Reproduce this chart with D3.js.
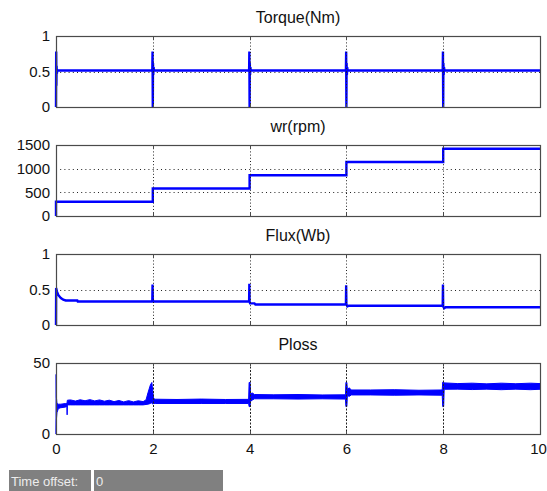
<!DOCTYPE html>
<html>
<head>
<meta charset="utf-8">
<script src="https://cdn.jsdelivr.net/npm/d3@7"></script>
<style>
  html, body { margin: 0; padding: 0; background: #fff; }
  svg { display: block; }
  text { font-family: "Liberation Sans", Arial, Helvetica, sans-serif; }
</style>
</head>
<body>
<svg id="scope" width="547" height="491"></svg>
<script>
// Time axis shared by all four traces (seconds)
const timeTicks = [0, 2, 4, 6, 8, 10];

// Panel titles and y-axis tick labels
const titles = ["Torque(Nm)", "wr(rpm)", "Flux(Wb)", "Ploss"];
const yDomains = [[0, 1], [0, 1500], [0, 1], [0, 50]];
const yTicks = [[0, 0.5, 1], [0, 500, 1000, 1500], [0, 0.5, 1], [0, 50]];
const yTickLabels = [["0", "0.5", "1"], ["0", "500", "1000", "1500"], ["0", "0.5", "1"], ["0", "50"]];

// Electromagnetic torque [t, Nm]
const torque = [
  [0, 0], [0.004, 0.78], [0.008, 0.30], [0.012, 0.58], [0.018, 0.47], [0.025, 0.515],
  [1.99, 0.515], [1.995, 0.78], [2.0, 0.0], [2.004, 0.62], [2.01, 0.45], [2.016, 0.56], [2.025, 0.515],
  [3.99, 0.515], [3.995, 0.78], [4.0, 0.0], [4.004, 0.62], [4.01, 0.45], [4.016, 0.56], [4.025, 0.515],
  [5.99, 0.515], [5.995, 0.78], [6.0, 0.0], [6.004, 0.62], [6.01, 0.45], [6.016, 0.56], [6.025, 0.515],
  [7.99, 0.515], [7.995, 0.78], [8.0, 0.0], [8.004, 0.62], [8.01, 0.45], [8.016, 0.56], [8.025, 0.515],
  [10, 0.515]
];

// Rotor speed [t, rpm]
const speed = [
  [0, 0], [0, 300], [2, 300], [2, 580], [4, 580], [4, 860],
  [6, 860], [6, 1140], [8, 1140], [8, 1420], [10, 1420]
];

// Stator flux [t, Wb]
const flux = [
  [0, 0], [0.003, 0.52], [0.02, 0.47], [0.05, 0.42], [0.1, 0.38], [0.15, 0.356], [0.2, 0.345],
  [0.44, 0.345], [0.45, 0.33],
  [1.99, 0.33], [1.995, 0.57], [2.0, 0.36], [2.01, 0.33],
  [3.99, 0.33], [3.995, 0.58], [4.0, 0.33], [4.01, 0.305],
  [4.1, 0.305], [4.12, 0.288],
  [5.99, 0.288], [5.995, 0.56], [6.0, 0.29], [6.02, 0.262], [6.05, 0.272],
  [7.99, 0.272], [7.995, 0.57], [8.0, 0.26], [8.02, 0.235], [8.05, 0.25],
  [10, 0.25]
];

// Power loss envelope [t, low, high] (W) — the trace ripples inside this band
const ploss = [
  [0, 0, 1], [0.003, 0, 42], [0.008, 10, 26], [0.02, 15, 21.5], [0.05, 18, 21],
  [0.1, 18.5, 21], [0.2, 19, 21.5], [0.225, 19.5, 21.5], [0.23, 13.5, 22.5], [0.235, 20.5, 23.8],
  [0.3, 20.5, 24], [0.4, 20.5, 23.2], [0.5, 20.5, 24.1], [0.6, 20.5, 23.4], [0.7, 20.5, 24.2],
  [0.8, 20.5, 23.3], [0.9, 20.5, 24], [1.0, 20.5, 23.1], [1.1, 20.5, 23.8], [1.2, 20.5, 22.8],
  [1.3, 20.5, 23.6], [1.4, 20.5, 22.6], [1.5, 20.5, 23.5], [1.6, 20.5, 22.6], [1.7, 20.5, 23.4],
  [1.8, 20.5, 22.8], [1.86, 20.8, 24], [1.9, 21, 29], [1.95, 21.5, 34.5], [1.98, 22, 36.3],
  [2.0, 21, 30], [2.015, 21.5, 25],
  [2.05, 21.5, 24.5], [2.5, 21.5, 24.3], [3.0, 21.5, 24.6], [3.5, 21.5, 24.3], [3.98, 21.5, 24.4],
  [3.99, 19.3, 36.3], [4.01, 19.3, 36.3], [4.02, 23, 28.5],
  [4.06, 24, 28.8], [4.1, 24.8, 27.8], [4.5, 24.8, 27.6], [5.0, 24.6, 27.8], [5.5, 24.8, 27.5], [5.98, 24.6, 27.6],
  [5.99, 19.3, 36.3], [6.01, 19.3, 36.3], [6.02, 27, 31.5],
  [6.06, 26.5, 32.5], [6.1, 27.5, 31], [6.5, 27.5, 31], [7.0, 27.3, 31.2], [7.5, 27.5, 30.8], [7.98, 27.3, 31],
  [7.99, 19.3, 36.5], [8.01, 19.3, 36.5], [8.02, 31.5, 36],
  [8.3, 31.6, 35.5], [8.6, 31.3, 35.8], [8.9, 31.6, 35.3], [9.2, 31.2, 35.8], [9.5, 31.6, 35.4], [9.8, 31.2, 35.8], [10, 31.5, 35.5]
];

const svg = d3.select("#scope");
const left = 56, right = 540;
const panelTop = [36, 145, 254, 363];
const panelH = 71;
const blue = "#0000ff";
const gridColor = "#222";
const frameColor = "#4a4a4a";

const x = d3.scaleLinear().domain([0, 10]).range([left, right]);

panelTop.forEach((top, i) => {
  const y = d3.scaleLinear().domain(yDomains[i]).range([top + panelH, top]);
  const g = svg.append("g");

  // title
  g.append("text")
    .attr("x", (left + right) / 2)
    .attr("y", top - 13)
    .attr("text-anchor", "middle")
    .attr("font-size", 16)
    .attr("fill", "#111")
    .text(titles[i]);

  // data
  const plot = g.append("g");
  if (i === 3) {
    plot.append("path")
      .datum(ploss)
      .attr("fill", blue)
      .attr("stroke", blue)
      .attr("stroke-width", 1)
      .attr("d", d3.area().x(d => x(d[0])).y0(d => y(d[1])).y1(d => y(d[2])));
  } else {
    const series = [torque, speed, flux][i];
    plot.append("path")
      .datum(series)
      .attr("fill", "none")
      .attr("stroke", blue)
      .attr("stroke-width", 2.4)
      .attr("stroke-linejoin", "miter")
      .attr("d", d3.line().x(d => x(d[0])).y(d => y(d[1])));
  }

  // grid (drawn over the traces, as the scope does)
  const grid = g.append("g").attr("stroke", gridColor).attr("stroke-width", 1);
  timeTicks.slice(1, -1).forEach(t => {
    grid.append("line")
      .attr("x1", Math.round(x(t)) + 0.5).attr("x2", Math.round(x(t)) + 0.5)
      .attr("y1", top).attr("y2", top + panelH)
      .attr("stroke-dasharray", i === 3 ? "2,1.5" : "1,2.2");
  });
  yTicks[i].slice(1, -1).forEach(v => {
    grid.append("line")
      .attr("x1", left).attr("x2", right)
      .attr("y1", Math.round(y(v)) + 0.5).attr("y2", Math.round(y(v)) + 0.5)
      .attr("stroke-dasharray", "1,3.2");
  });

  // frame
  g.append("rect")
    .attr("x", left + 0.5).attr("y", top + 0.5)
    .attr("width", right - left).attr("height", panelH)
    .attr("fill", "none").attr("stroke", frameColor).attr("stroke-width", 1.2);

  // y axis labels
  const yAxis = d3.axisLeft(y)
    .tickValues(yTicks[i])
    .tickFormat((d, k) => yTickLabels[i][k])
    .tickSize(0).tickPadding(6);
  const ya = g.append("g").attr("transform", `translate(${left},0)`).call(yAxis);
  ya.select(".domain").remove();
  ya.selectAll("text").attr("font-size", 15).attr("fill", "#111")
    .attr("font-family", "'Liberation Sans', Arial, sans-serif");

  // inner tick marks along the bottom and top edges
  timeTicks.slice(1, -1).forEach(t => {
    g.append("line").attr("x1", Math.round(x(t)) + 0.5).attr("x2", Math.round(x(t)) + 0.5)
      .attr("y1", top + panelH).attr("y2", top + panelH - 3)
      .attr("stroke", frameColor);
    g.append("line").attr("x1", Math.round(x(t)) + 0.5).attr("x2", Math.round(x(t)) + 0.5)
      .attr("y1", top).attr("y2", top + 3)
      .attr("stroke", frameColor);
  });

  if (i === 3) {
    const xAxis = d3.axisBottom(x).tickValues(timeTicks).tickFormat(d3.format("d"))
      .tickSize(0).tickPadding(9);
    const xa = g.append("g").attr("transform", `translate(0,${top + panelH})`).call(xAxis);
    xa.select(".domain").remove();
    xa.selectAll("text").attr("font-size", 15).attr("fill", "#111")
      .attr("font-family", "'Liberation Sans', Arial, sans-serif");
    // keep the last label inside the window edge
    xa.selectAll("text").filter(d => d === 10).attr("dx", -2);
  }
});

// time offset readout
const footer = svg.append("g");
footer.append("rect").attr("x", 9).attr("y", 470).attr("width", 82).attr("height", 21).attr("fill", "#808080");
footer.append("rect").attr("x", 94).attr("y", 470).attr("width", 129).attr("height", 21).attr("fill", "#808080");
footer.append("text").attr("x", 11).attr("y", 486).attr("font-size", 13).attr("fill", "#ededed").text("Time offset:");
footer.append("text").attr("x", 96).attr("y", 486).attr("font-size", 13).attr("fill", "#ededed").text("0");
</script>
</body>
</html>
